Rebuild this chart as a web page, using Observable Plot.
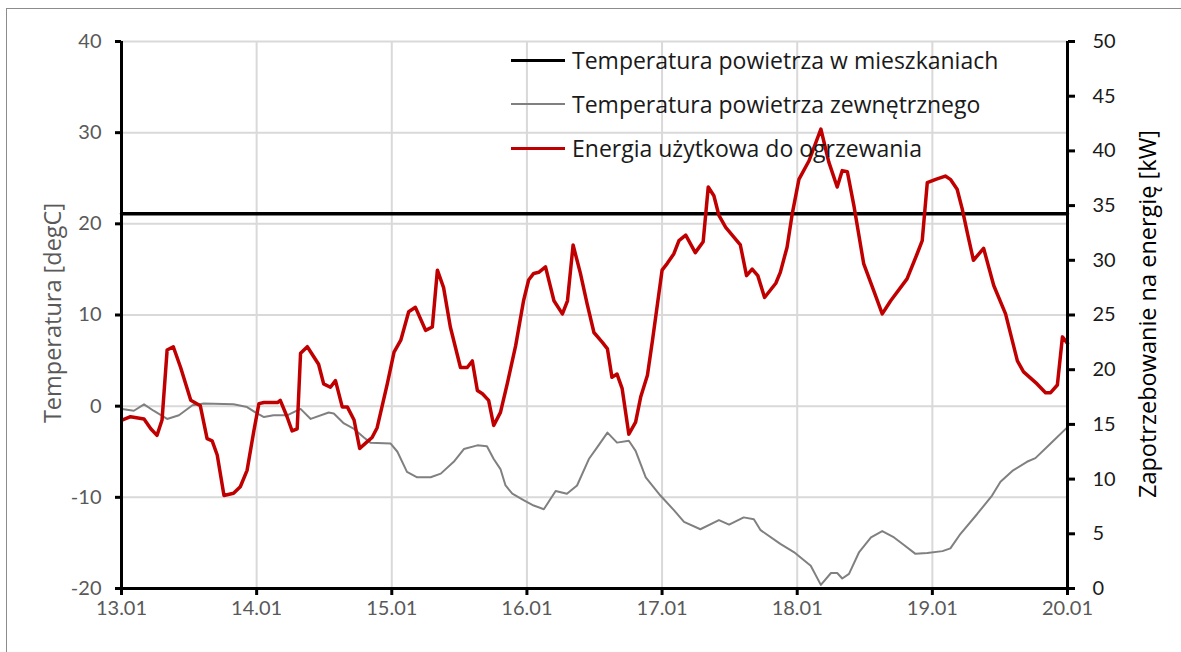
<!DOCTYPE html>
<html><head><meta charset="utf-8">
<script src="https://cdn.jsdelivr.net/npm/d3@7"></script>
<script src="https://cdn.jsdelivr.net/npm/@observablehq/plot@0.6"></script>
<style>
body{margin:0;background:#fff;font-family:Lato,"Open Sans",sans-serif}
#wrap{position:relative;width:1181px;height:652px;overflow:hidden;background:#fff}
#frame{position:absolute;left:6px;top:8px;width:1300px;height:800px;border:1px solid #8c8c8c}
#chart{position:absolute;left:0;top:0}
.ttl{position:absolute;white-space:nowrap;font-family:"Open Sans",sans-serif;font-size:23.5px;transform:translate(-50%,-50%) rotate(-90deg)}
#legend{position:absolute;left:511px;top:38px}
.row{position:relative;height:44px;display:flex;align-items:center;font-family:"Open Sans",sans-serif;font-size:23px;color:#1a1a1a}
.sw{width:54px;margin-right:7px}
</style></head>
<body>
<div id="wrap">
<div id="frame"></div>
<div id="chart"></div>
<div class="ttl" style="left:52px;top:313px;color:#595959">Temperatura [degC]</div>
<div class="ttl" style="left:1147px;top:314px;color:#000">Zapotrzebowanie na energię [kW]</div>
<div id="legend"></div>
</div>
<script>
const dayLabels = ["13.01","14.01","15.01","16.01","17.01","18.01","19.01","20.01"];
const dayHours = [0,24,48,72,96,120,144,168];
const tempTicks = [-20,-10,0,10,20,30,40];
const kwTicks = [0,5,10,15,20,25,30,35,40,45,50];

const seriesNames = ["Temperatura powietrza w mieszkaniach","Temperatura powietrza zewnętrznego","Energia użytkowa do ogrzewania"];

const indoorHours = [0,168];
const indoorTemp = [21.1,21.1];

const outdoorHours = [0.1,2.2,4.0,5.7,8.1,10.2,12.6,14.6,19.9,22.3,24.1,25.3,27.0,29.4,31.8,33.6,36.8,37.7,39.5,41.3,43.0,44.2,47.8,49.0,50.7,52.5,54.9,56.7,59.0,60.8,63.2,64.9,66.1,67.3,68.2,69.4,71.4,73.2,75.0,77.1,79.1,80.9,83.0,84.5,86.3,88.0,90.1,91.3,93.1,95.7,98.1,99.9,102.8,106.1,107.9,110.5,112.3,113.5,117.0,119.4,122.4,124.2,126.0,127.1,128.0,129.2,131.0,133.1,135.1,137.2,138.9,141.0,143.1,145.8,147.2,149.0,152.0,154.6,156.1,158.2,160.8,162.3,165.0,168.0];
const outdoorTemp = [-0.3,-0.5,0.2,-0.5,-1.4,-1.0,0.1,0.3,0.2,-0.1,-0.8,-1.2,-1.0,-1.0,-0.3,-1.4,-0.7,-0.8,-1.9,-2.5,-3.4,-4.0,-4.1,-5.0,-7.2,-7.8,-7.8,-7.4,-6.1,-4.7,-4.3,-4.4,-5.8,-6.9,-8.7,-9.6,-10.3,-10.9,-11.3,-9.3,-9.6,-8.7,-5.8,-4.5,-2.9,-4.0,-3.8,-4.9,-7.8,-9.8,-11.4,-12.7,-13.5,-12.5,-13.0,-12.2,-12.4,-13.6,-15.1,-16.0,-17.5,-19.6,-18.3,-18.3,-18.9,-18.4,-16.0,-14.4,-13.7,-14.4,-15.2,-16.2,-16.1,-15.9,-15.6,-14.0,-11.8,-9.8,-8.3,-7.1,-6.1,-5.7,-4.1,-2.3];

const energyHours = [0.1,1.6,4.0,5.2,6.3,7.2,8.1,9.2,10.5,12.3,14.0,15.2,16.1,17.0,18.2,19.9,21.1,22.3,23.5,24.4,25.3,27.7,28.2,29.4,30.3,31.2,31.8,33.0,35.0,35.9,37.1,38.0,39.2,40.1,41.3,42.3,43.6,44.5,45.4,47.2,48.4,49.6,51.0,52.2,54.0,55.2,56.1,57.2,58.4,60.2,61.4,62.3,63.2,64.1,65.2,66.1,67.3,68.5,70.0,71.4,72.3,73.2,74.1,75.3,76.8,78.3,79.2,80.2,81.5,82.7,83.9,85.4,86.3,87.1,88.0,88.9,90.1,91.3,92.2,93.4,94.3,96.0,96.9,98.1,99.0,100.2,101.9,103.3,104.2,105.2,106.1,107.3,109.9,111.0,112.0,113.0,114.2,116.2,117.0,118.2,119.1,120.3,122.1,124.2,125.6,127.1,128.0,128.9,130.1,131.8,133.6,135.1,136.6,139.5,141.3,142.2,143.1,144.6,146.3,147.2,148.4,149.3,150.3,151.3,153.1,154.9,157.0,159.1,160.2,162.6,164.1,165.0,166.2,167.1,168.0];
const energyKW = [15.4,15.7,15.5,14.6,14.0,15.4,21.8,22.1,20.2,17.2,16.7,13.7,13.5,12.2,8.5,8.7,9.3,10.8,14.4,16.9,17.0,17.0,17.2,15.7,14.4,14.6,21.5,22.1,20.5,18.7,18.4,19.0,16.6,16.6,15.4,12.8,13.4,13.8,14.7,18.7,21.6,22.7,25.3,25.7,23.6,23.9,29.1,27.5,23.9,20.2,20.2,20.8,18.1,17.8,17.2,14.9,16.1,18.7,22.2,26.3,28.2,28.8,28.9,29.4,26.3,25.1,26.3,31.4,28.8,26.0,23.4,22.5,21.9,19.3,19.6,18.3,14.1,15.2,17.5,19.5,22.7,29.1,29.7,30.6,31.8,32.3,30.7,31.7,36.7,35.9,34.1,33.0,31.4,28.6,29.2,28.6,26.6,27.9,28.9,31.2,34.2,37.4,39.1,42.0,39.0,36.7,38.2,38.1,34.9,29.7,27.2,25.1,26.3,28.3,30.6,31.8,37.1,37.4,37.7,37.4,36.5,34.7,32.3,30.0,31.1,27.7,25.1,20.8,19.8,18.7,17.9,17.9,18.6,23.0,22.4];

// secondary axis: 0..50 kW mapped onto -20..40 degC
const kwToTemp = k => -20 + k * 60 / 50;
const tempToKw = t => (t + 20) * 50 / 60;

const indoor = indoorHours.map((h, i) => ({h, v: indoorTemp[i]}));
const outdoor = outdoorHours.map((h, i) => ({h, v: outdoorTemp[i]}));
const energy = energyHours.map((h, i) => ({h, v: kwToTemp(energyKW[i])}));

const colors = ["#000000", "#808080", "#c00000"];
const widths = [3.5, 2, 3.5];

const chart = Plot.plot({
  width: 1181, height: 652,
  marginLeft: 121, marginRight: 114, marginTop: 41, marginBottom: 64,
  style: {fontFamily: "Lato, sans-serif", background: "transparent"},
  x: {domain: [0, 168]},
  y: {domain: [-20, 40]},
  marks: [
    Plot.gridY(tempTicks, {stroke: "#d9d9d9", strokeOpacity: 1, strokeWidth: 2}),
    Plot.gridX(dayHours, {stroke: "#d9d9d9", strokeOpacity: 1, strokeWidth: 2}),
    Plot.line(indoor, {x: "h", y: "v", stroke: colors[0], strokeWidth: widths[0]}),
    Plot.line(outdoor, {x: "h", y: "v", stroke: colors[1], strokeWidth: widths[1]}),
    Plot.line(energy, {x: "h", y: "v", stroke: colors[2], strokeWidth: widths[2], strokeLinejoin: "round"}),
    Plot.axisY(tempTicks, {anchor: "left", label: null, tickFormat: d => String(d), tickSize: 6, tickPadding: 14, strokeWidth: 3, stroke: "#000", fill: "#595959", fontSize: 20}),
    Plot.axisY(kwTicks.map(kwToTemp), {anchor: "right", label: null, tickFormat: d => String(Math.round(tempToKw(d))), tickSize: 7, tickPadding: 18, strokeWidth: 3, stroke: "#000", fill: "#1a1a1a", fontSize: 20}),
    Plot.axisX(dayHours, {anchor: "bottom", label: null, tickFormat: d => dayLabels[dayHours.indexOf(d)], tickSize: 7, tickPadding: 5, strokeWidth: 3, stroke: "#000", fill: "#595959", fontSize: 20}),
    Plot.ruleX([0, 168], {stroke: "#000", strokeWidth: 3}),
    Plot.ruleY([-20], {stroke: "#000", strokeWidth: 3})
  ]
});
document.getElementById("chart").appendChild(chart);

const legend = document.getElementById("legend");
seriesNames.forEach((name, i) => {
  const row = document.createElement("div");
  row.className = "row";
  const sw = document.createElement("div");
  sw.className = "sw";
  sw.style.borderTop = `${widths[i]}px solid ${colors[i]}`;
  row.appendChild(sw);
  const t = document.createElement("span");
  t.textContent = name;
  row.appendChild(t);
  legend.appendChild(row);
});
</script>
</body></html>
